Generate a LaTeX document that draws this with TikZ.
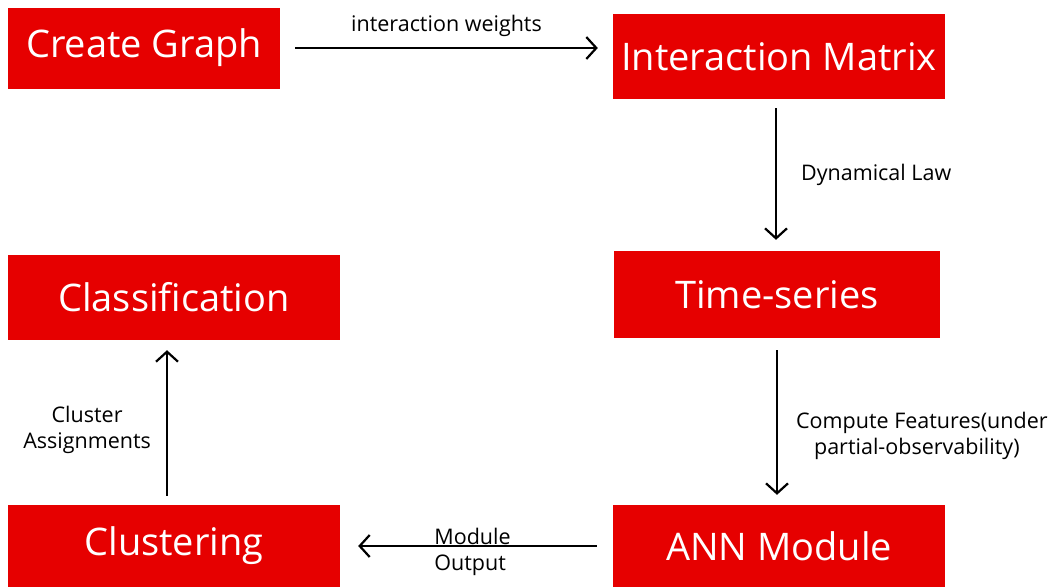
\documentclass[tikz,border=0pt]{standalone}
\usepackage{fontspec}
\setmainfont{Open Sans}
\usetikzlibrary{arrows.meta}
\definecolor{boxred}{HTML}{E60000}
\begin{document}
\begin{tikzpicture}[x=1pt,y=-1pt,
  box/.style={fill=boxred,draw=none,text=white,inner sep=0pt,font=\fontsize{38}{44}\selectfont},
  lbl/.style={font=\fontsize{21.5}{26}\selectfont,text=black,inner sep=0pt,align=center},
  conn/.style={line width=2.2pt,-{Straight Barb[length=10pt,width=22pt,line width=2.2pt]}}]
\useasboundingbox[fill=white] (0,0) rectangle (1051,587);
\node[box,minimum width=272pt,minimum height=81pt] (cg) at (144,48) {Create Graph};
\node[box,minimum width=332pt,minimum height=85pt] (im) at (779,56.5) {Interaction Matrix};
\node[box,minimum width=326pt,minimum height=87pt] (ts) at (777,294.5) {Time-series};
\node[box,minimum width=332pt,minimum height=85pt] (cl) at (174,297.5) {Classification};
\node[box,minimum width=332pt,minimum height=82pt] (cu) at (174,546) {Clustering};
\node[box,minimum width=332pt,minimum height=82pt] (ann) at (779,546) {ANN Module};
\draw[conn,shorten <=15pt,shorten >=15pt] (cg.east) -- (cg.east -| im.west)
  node[lbl,midway,above=10pt] {interaction weights};
\draw[conn,shorten <=9pt,shorten >=11pt] ([xshift=-3pt]im.south) -- ([xshift=-3pt]im.south |- ts.north)
  node[lbl,midway,right=24pt,anchor=west] {Dynamical Law};
\draw[conn,shorten <=12pt,shorten >=10pt] (ts.south) -- (ts.south |- ann.north)
  node[lbl,midway,right=18pt,anchor=west,align=left,yshift=-14pt] {Compute Features(under\\\hspace*{18pt}partial-observability)};
\draw[conn,shorten <=16pt,shorten >=18pt] (ann.west) -- (ann.west -| cu.east)
  node[lbl,pos=0.5,align=left,xshift=-4pt,yshift=-6pt] (mo) {Module\\Output};
\draw[conn,shorten <=9pt,shorten >=10pt] ([xshift=-7pt]cu.north) -- ([xshift=-7pt]cu.north |- cl.south)
  node[lbl,midway,left=15pt,yshift=-7pt] {Cluster\\Assignments};
\end{tikzpicture}
\end{document}
